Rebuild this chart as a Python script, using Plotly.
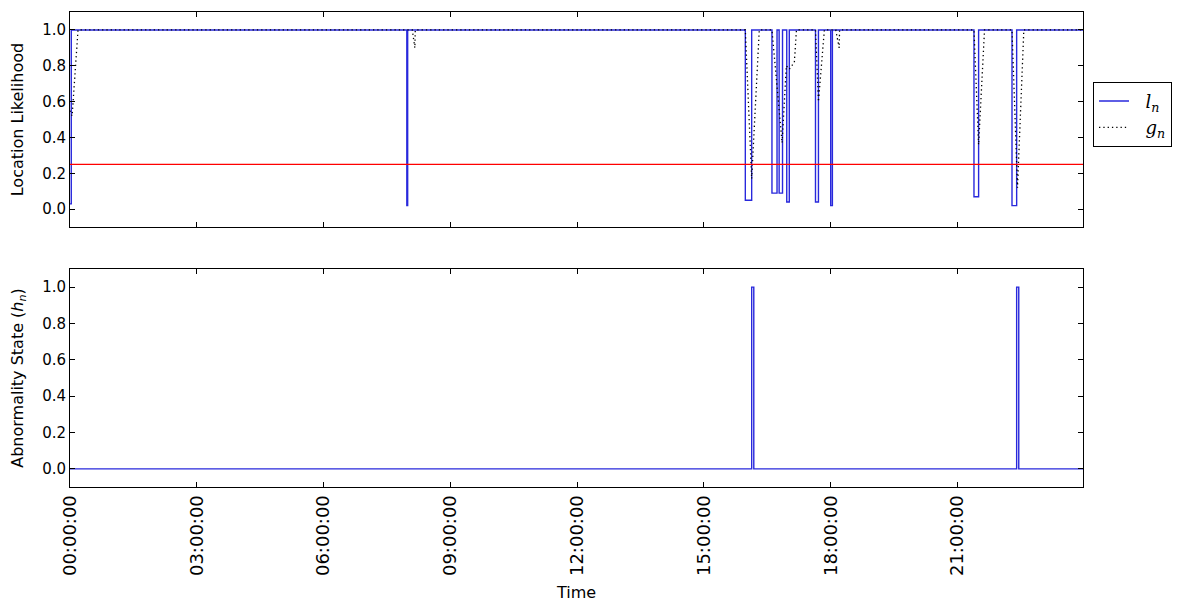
import plotly.graph_objects as go

# ---------------- data (hours since midnight) ----------------
tick_hours = [0, 3, 6, 9, 12, 15, 18, 21]
tick_labels = ["00:00:00", "03:00:00", "06:00:00", "09:00:00",
               "12:00:00", "15:00:00", "18:00:00", "21:00:00"]
x_end = 23.97

# location likelihood l_n (step series)
l_time = [0.0, 0.03, 7.97, 7.99, 15.98, 16.13, 16.61, 16.73, 16.78, 16.86,
          16.96, 17.02, 17.64, 17.71, 18.00, 18.04, 21.39, 21.50, 22.29, 22.40, 23.97]
l_value = [0.03, 1.0, 0.02, 1.0, 0.05, 1.0, 0.09, 1.0, 0.09, 1.0,
           0.04, 1.0, 0.04, 1.0, 0.02, 1.0, 0.07, 1.0, 0.02, 1.0, 1.0]

# smoothed likelihood g_n
g_time = [0.0, 0.05, 0.19,
          8.10, 8.16, 8.17,
          15.98, 16.13, 16.31,
          16.61, 16.85, 16.95, 17.02, 17.14, 17.19,
          17.64, 17.71, 17.85,
          18.12, 18.20, 18.21,
          21.39, 21.50, 21.64,
          22.29, 22.42, 22.57,
          23.97]
g_value = [0.55, 0.52, 1.0,
           1.0, 0.90, 1.0,
           1.0, 0.17, 1.0,
           1.0, 0.37, 0.80, 0.78, 0.82, 1.0,
           1.0, 0.60, 1.0,
           1.0, 0.90, 1.0,
           1.0, 0.36, 1.0,
           1.0, 0.12, 1.0,
           1.0]

# abnormality state h_n
h_time = [0.0, 16.13, 16.18, 22.40, 22.45, 23.97]
h_value = [0, 1, 0, 1, 0, 0]

threshold = 0.25

# ---------------- figure ----------------
BLUE = "rgb(40,40,220)"
FONT = "DejaVu Sans"
PAD = "&nbsp;&nbsp;"

fig = go.Figure()

fig.add_trace(go.Scatter(x=l_time, y=l_value, mode="lines", line_shape="hv",
                         line=dict(color=BLUE, width=1.4),
                         name=PAD + "<i>l<sub>n</sub></i>", xaxis="x2", yaxis="y2"))
fig.add_trace(go.Scatter(x=g_time, y=g_value, mode="lines",
                         line=dict(color="black", width=1.3, dash="1.3px,3px"),
                         name=PAD + "<i>g<sub>n</sub></i>", xaxis="x2", yaxis="y2"))
fig.add_trace(go.Scatter(x=[0, x_end], y=[threshold, threshold], mode="lines",
                         line=dict(color="red", width=1.2), showlegend=False,
                         xaxis="x2", yaxis="y2"))
fig.add_trace(go.Scatter(x=h_time, y=h_value, mode="lines", line_shape="hv",
                         line=dict(color=BLUE, width=1.4), showlegend=False,
                         xaxis="x", yaxis="y"))

axis_common = dict(showline=True, linecolor="black", linewidth=1, mirror="allticks",
                   ticks="inside", ticklen=5, tickcolor="black", showgrid=False,
                   zeroline=False, automargin=False)

fig.update_layout(
    width=1187, height=602,
    margin=dict(l=70, r=104, t=12, b=115),
    paper_bgcolor="white", plot_bgcolor="white",
    font=dict(family=FONT, size=16, color="black"),
    xaxis=dict(range=[0, x_end], tickvals=tick_hours, ticktext=tick_labels,
               tickangle=-90, tickfont=dict(size=18),
               title=dict(text="Time", font=dict(size=16), standoff=12),
               anchor="y", **axis_common),
    xaxis2=dict(range=[0, x_end], tickvals=tick_hours, showticklabels=False,
                anchor="y2", matches="x", **axis_common),
    yaxis=dict(domain=[0, 0.459], range=[-0.1, 1.1], tickvals=[0, 0.2, 0.4, 0.6, 0.8, 1.0],
               tickformat=".1f", tickfont=dict(size=15),
               title=dict(text="Abnormality State (<i>h<sub>n</sub></i>)", font=dict(size=16), standoff=14),
               anchor="x", **axis_common),
    yaxis2=dict(domain=[0.547, 1.0], range=[-0.1, 1.1], tickvals=[0, 0.2, 0.4, 0.6, 0.8, 1.0],
                tickformat=".1f", tickfont=dict(size=15),
                title=dict(text="Location Likelihood", font=dict(size=16), standoff=14),
                anchor="x2", **axis_common),
    legend=dict(x=1.0099, y=0.853, xanchor="left", yanchor="top",
                bordercolor="black", borderwidth=1, bgcolor="white",
                font=dict(family="DejaVu Serif", size=18),
                itemwidth=30, tracegroupgap=6),
    showlegend=True,
)

fig.write_html("out.html")
